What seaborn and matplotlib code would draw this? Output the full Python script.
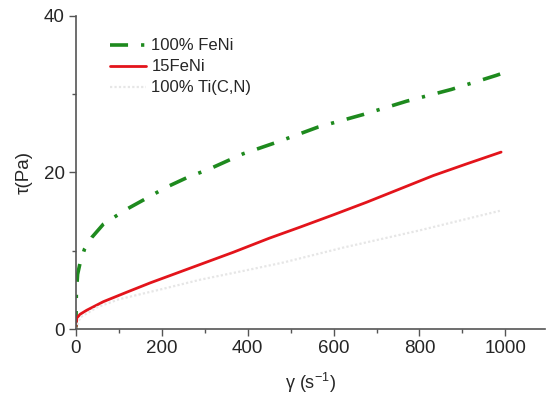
import numpy as np
import matplotlib
matplotlib.use('Agg')
import matplotlib.pyplot as plt
import seaborn as sn
from matplotlib.ticker import MultipleLocator

# shear rate (1/s) and shear stress (Pa)
FENI_X = [0, 1, 4, 10, 20, 37, 64, 118, 161, 210, 261, 309, 390, 470, 564, 669, 770, 874, 979, 1000]
FENI_Y = [0, 4.5, 7.0, 8.5, 10.2, 11.7, 13.4, 15.3, 16.6, 18.1, 19.4, 20.4, 22.4, 23.9, 25.8, 27.4, 29.1, 30.6, 32.4, 32.8]

MIX_X = [0, 2, 10, 25, 64, 118, 173, 272, 366, 450, 521, 600, 677, 750, 832, 910, 990]
MIX_Y = [0.1, 1.4, 1.9, 2.4, 3.5, 4.7, 5.9, 7.9, 9.8, 11.6, 13.0, 14.6, 16.2, 17.8, 19.6, 21.1, 22.6]

TI_X = [0, 10, 50, 100, 200, 289, 405, 483, 622, 800, 987]
TI_Y = [0, 1.5, 2.8, 3.8, 5.1, 6.3, 7.6, 8.5, 10.4, 12.6, 15.1]

LABELS = ['100% FeNi', '15FeNi', '100% Ti(C,N)']


def main():
    sn.set_style('ticks')
    plt.rcParams['font.family'] = ['Liberation Sans', 'DejaVu Sans']
    plt.rcParams['mathtext.default'] = 'regular'

    fig = plt.figure(figsize=(5.46, 3.96), dpi=100)
    ax = fig.add_axes([0.139, 0.169, 0.859, 0.791])

    sn.lineplot(x=FENI_X, y=FENI_Y, ax=ax, color='#1e8a1e', lw=2.6,
                ls=(0, (5.0, 3.6, 0.9, 3.6)), label=LABELS[0])
    sn.lineplot(x=MIX_X, y=MIX_Y, ax=ax, color='#e3141b', lw=2.0, label=LABELS[1])
    sn.lineplot(x=TI_X, y=TI_Y, ax=ax, color='#e6e6e6', lw=1.6,
                ls=(0, (1, 1)), label=LABELS[2])

    ax.set_xlim(0, 1092)
    ax.set_ylim(0, 40)
    ax.xaxis.set_major_locator(MultipleLocator(200))
    ax.xaxis.set_minor_locator(MultipleLocator(100))
    ax.yaxis.set_major_locator(MultipleLocator(20))
    ax.yaxis.set_minor_locator(MultipleLocator(10))
    ax.tick_params(which='major', length=5, width=1, color='#555555', labelsize=13.5, pad=3)
    ax.tick_params(which='minor', length=3, width=1, color='#555555')
    for s in ['left', 'bottom']:
        ax.spines[s].set_color('#555555')
        ax.spines[s].set_linewidth(1.2)
    sn.despine(ax=ax)

    ax.set_xlabel('γ (s$^{-1}$)', fontsize=13, labelpad=10)
    ax.set_ylabel('τ(Pa)', fontsize=13.5, labelpad=8)

    ax.legend(loc='upper left', bbox_to_anchor=(0.072, 0.928), frameon=False,
              fontsize=12, handlelength=2.2, handletextpad=0.3,
              labelspacing=0.36, borderaxespad=0, borderpad=0)

    fig.savefig('out.png', dpi=100)


if __name__ == '__main__':
    main()
